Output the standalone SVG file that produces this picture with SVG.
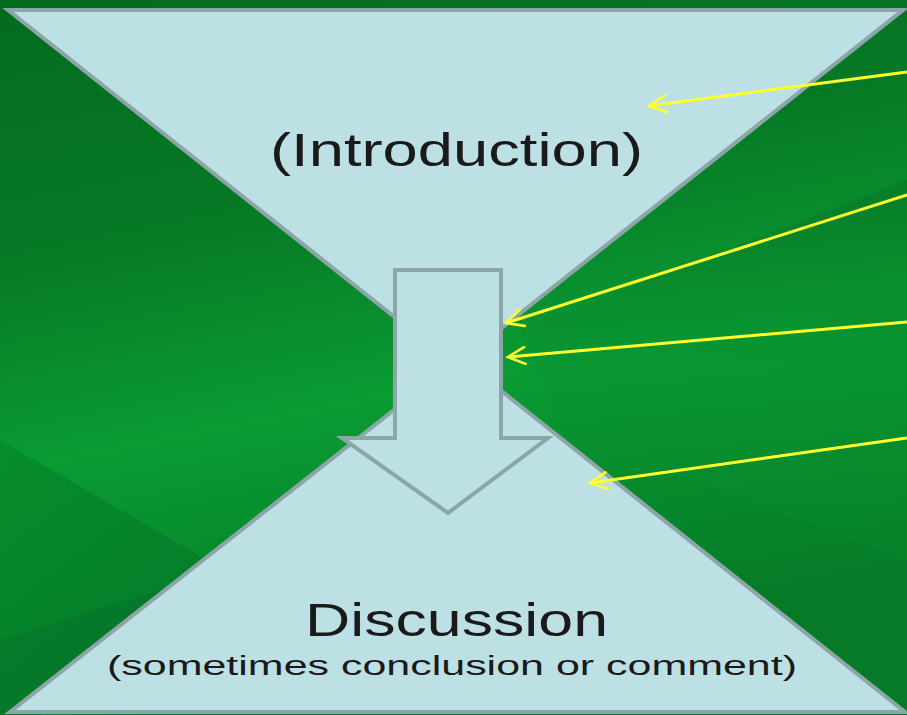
<svg xmlns="http://www.w3.org/2000/svg" width="907" height="715" viewBox="0 0 907 715">
  <defs>
    <linearGradient id="bg" x1="0" y1="0" x2="0.25" y2="1">
      <stop offset="0" stop-color="#036b1e"/>
      <stop offset="0.35" stop-color="#077a26"/>
      <stop offset="0.62" stop-color="#0a9b33"/>
      <stop offset="0.8" stop-color="#078a2c"/>
      <stop offset="1" stop-color="#067a27"/>
    </linearGradient>
    <linearGradient id="lowleft" x1="0" y1="0" x2="1" y2="1">
      <stop offset="0" stop-color="#068a2b"/>
      <stop offset="1" stop-color="#04762a"/>
    </linearGradient>
    <linearGradient id="rightband" x1="0" y1="0" x2="0" y2="1">
      <stop offset="0" stop-color="#067526"/>
      <stop offset="0.5" stop-color="#0a9532"/>
      <stop offset="1" stop-color="#07842b"/>
    </linearGradient>
    <marker id="chev" viewBox="0 0 10 10" refX="9" refY="5" markerWidth="24" markerHeight="20" markerUnits="userSpaceOnUse" orient="auto">
      <path d="M0,0.5 L9,5 L0,9.5" fill="none" stroke="#ffff2e" stroke-width="1.3"/>
    </marker>
    <style>
      .shape { fill: #bce0e4; stroke: #8ca6a8; stroke-width: 4; stroke-linejoin: miter; }
      .conn { stroke: #ffff2e; stroke-width: 3; fill: none; marker-end: url(#chev); }
      .big { font-family: "Liberation Sans", Arial, sans-serif; font-size: 47px; fill: #1a1a1a; }
      .small { font-family: "Liberation Sans", Arial, sans-serif; font-size: 27px; fill: #1a1a1a; }
    </style>
  </defs>

  <rect x="0" y="0" width="907" height="715" fill="url(#bg)"/>
  <polygon points="0,440 250,585 120,715 0,715" fill="url(#lowleft)" opacity="0.85"/>
  <polygon points="0,640 160,590 40,715 0,715" fill="#05742a" opacity="0.6"/>
  <polygon points="520,330 907,180 907,560 560,430" fill="url(#rightband)" opacity="0.6"/>

  <g id="discussion-triangle">
    <polygon class="shape" points="10,712 905,712 460,358"/>
  </g>
  <g id="introduction-triangle">
    <polygon class="shape" points="8,10 903,10 455,365"/>
  </g>

  <g id="down-arrow">
    <polygon class="shape" points="395,270 501,270 501,438 548,438 448,513 342,438 395,438"/>
  </g>

  <g id="introduction-label">
    <text class="big" x="270" y="166" textLength="373" lengthAdjust="spacingAndGlyphs">(Introduction)</text>
  </g>
  <g id="discussion-label">
    <text class="big" x="305" y="636" textLength="303" lengthAdjust="spacingAndGlyphs">Discussion</text>
    <text class="small" x="107" y="675" textLength="690" lengthAdjust="spacingAndGlyphs">(sometimes conclusion or comment)</text>
  </g>

  <g id="connectors">
    <line class="conn" x1="907" y1="72" x2="649" y2="106"/>
    <line class="conn" x1="907" y1="195" x2="506" y2="323"/>
    <line class="conn" x1="907" y1="322" x2="508" y2="357"/>
    <line class="conn" x1="907" y1="438" x2="590" y2="483"/>
  </g>
</svg>
